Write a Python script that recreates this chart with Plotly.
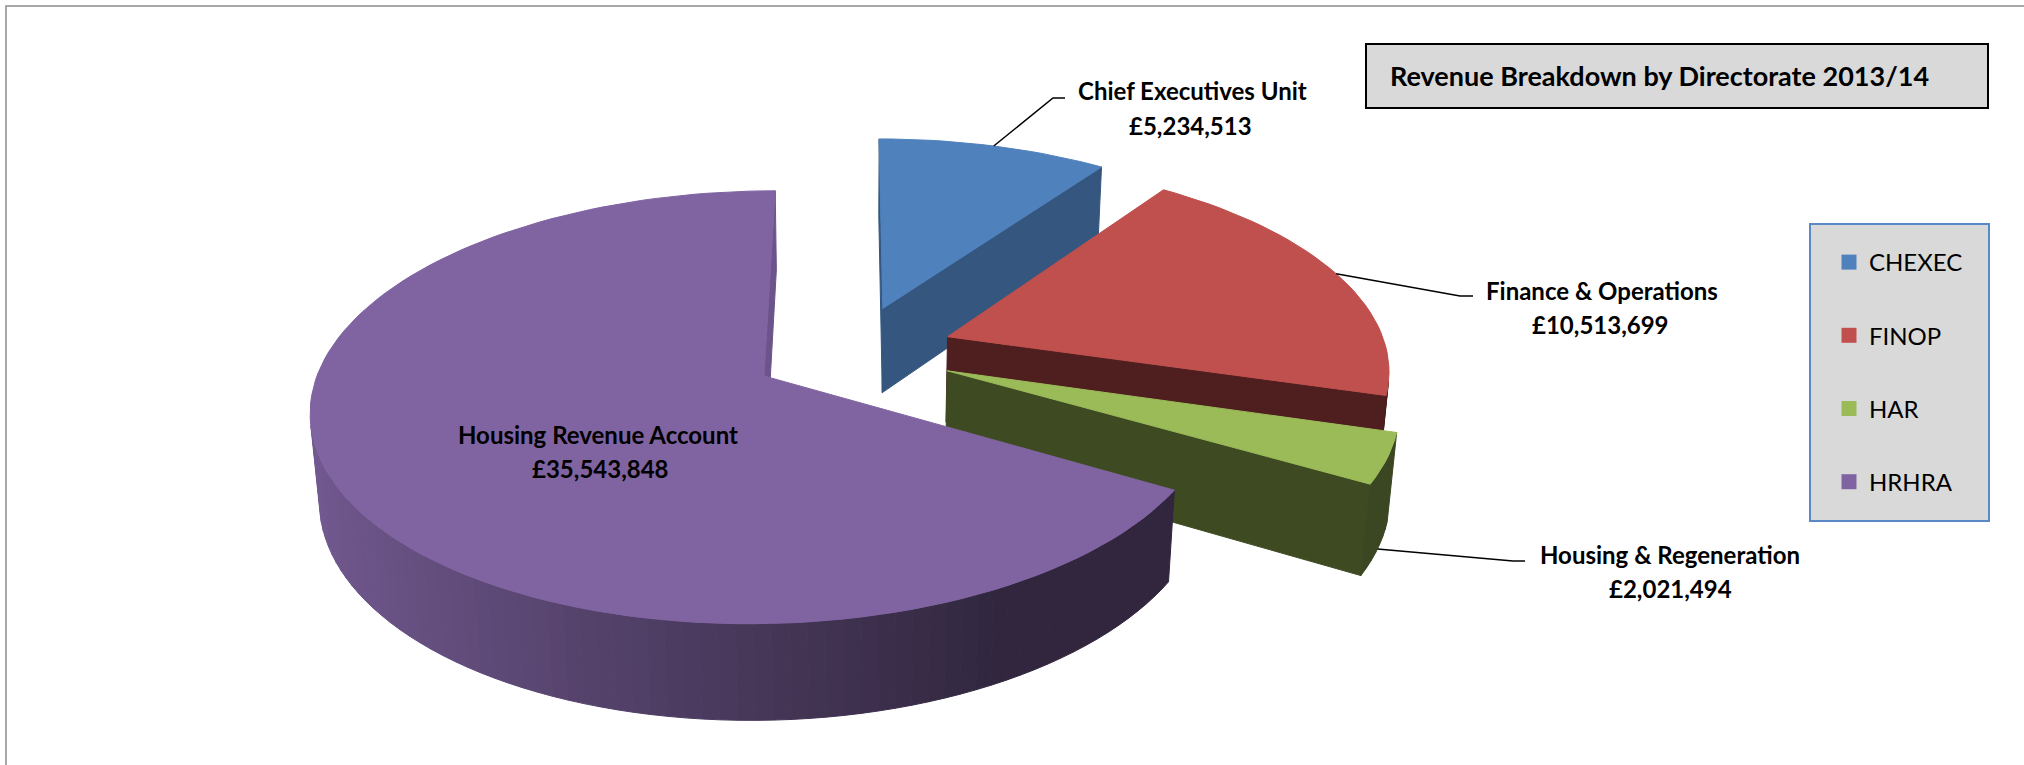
import numpy as np
import plotly.graph_objects as go

# ---- data: revenue by directorate, 2013/14 (GBP) ----
codes = ["CHEXEC", "FINOP", "HAR", "HRHRA"]
names = ["Chief Executives Unit", "Finance & Operations",
         "Housing & Regeneration", "Housing Revenue Account"]
revenue = [5234513, 10513699, 2021494, 35543848]
title_text = "Revenue Breakdown by Directorate 2013/14"

# ---- styles ----
top_colors = ["#4F81BD", "#C0504D", "#9BBB59", "#8064A2"]
cut_colors = ["#34567F", "#4F1E1F", "#3E4B22", "#6B548A"]   # radial cut faces
FONT = "Lato"

# ---- page / camera set-up for the 3-D pie ----
W, H = 2024, 765
CX, CY, FOCAL = 853.0, 352.0, 2735.0
ELEV = np.radians(27.8)
DIST = 6.22
THICK = 0.225
EXPLODE = 0.23
sE, cE = np.sin(ELEV), np.cos(ELEV)
CAM = np.array([0.0, -DIST * cE, DIST * sE])


def proj(X, Y, Z):
    """Perspective projection of pie-space points onto the image plane."""
    X = np.asarray(X, float)
    Y = np.asarray(Y, float)
    Z = np.asarray(Z, float)
    depth = DIST + Y * cE - Z * sE
    return X / depth, (Y * sE + Z * cE) / depth


def pix(xp, yp):
    """Page pixel -> axis units (used to place labels)."""
    return (xp - CX) / FOCAL, (CY - yp) / FOCAL


def scale_color(hex_color, k):
    h = hex_color.lstrip("#")
    r, g, b = (int(h[i:i + 2], 16) for i in (0, 2, 4))
    return "rgb({},{},{})".format(*(int(round(min(255, c * k))) for c in (r, g, b)))


def rim_factor(theta):
    t = np.clip((1 + np.sin(theta)) / 1.5, 0, 1)
    return 0.9 - 0.52 * t


fig = go.Figure()


def add_poly(xs, ys, color):
    xs = list(xs) + [xs[0]]
    ys = list(ys) + [ys[0]]
    fig.add_trace(go.Scatter(x=xs, y=ys, mode="lines", fill="toself",
                             fillcolor=color, line=dict(color=color, width=1),
                             hoverinfo="skip", showlegend=False))


def visible(normal, point):
    return float(np.dot(CAM - np.asarray(point), normal)) > 0


vals = np.array(revenue, float)
fracs = vals / vals.sum()
ends = np.cumsum(fracs) * 2 * np.pi
starts = ends - fracs * 2 * np.pi
mids = (starts + ends) / 2
offx = EXPLODE * np.sin(mids)
offy = EXPLODE * np.cos(mids)

# painter's order: farthest slice first
order = np.argsort(-offy)
for i in order:
    a0, a1 = starts[i], ends[i]
    ox, oy = offx[i], offy[i]
    nstep = max(2, int(np.ceil(np.degrees(a1 - a0) / 2.0)))
    th = np.linspace(a0, a1, nstep + 1)

    # radial cut faces
    for ang, nrm in ((a0, (-np.cos(a0), np.sin(a0), 0.0)),
                     (a1, (np.cos(a1), -np.sin(a1), 0.0))):
        if visible(np.array(nrm), (ox, oy, -THICK / 2)):
            X = [ox, ox + np.sin(ang), ox + np.sin(ang), ox]
            Y = [oy, oy + np.cos(ang), oy + np.cos(ang), oy]
            Z = [0, 0, -THICK, -THICK]
            u, v = proj(X, Y, Z)
            add_poly(u, v, cut_colors[i])

    # outer curved wall, strip by strip
    for k in range(nstep):
        tm = (th[k] + th[k + 1]) / 2
        nrm = np.array([np.sin(tm), np.cos(tm), 0.0])
        if not visible(nrm, (ox + np.sin(tm), oy + np.cos(tm), -THICK / 2)):
            continue
        t2 = [th[k], th[k + 1], th[k + 1], th[k]]
        X = [ox + np.sin(t) for t in t2]
        Y = [oy + np.cos(t) for t in t2]
        Z = [0, 0, -THICK, -THICK]
        u, v = proj(X, Y, Z)
        add_poly(u, v, scale_color(top_colors[i], rim_factor(tm)))

    # top face
    X = np.concatenate([[ox], ox + np.sin(th)])
    Y = np.concatenate([[oy], oy + np.cos(th)])
    u, v = proj(X, Y, np.zeros_like(X))
    add_poly(u, v, top_colors[i])

# ---- data labels with leader lines ----
# (name line centre, value line centre, elbow, end of leader, leader anchor height)
label_layout = {
    0: dict(name=(1192, 90), value=(1190, 125), elbow=(1053, 98), end=(1065, 98), z=0.0),
    1: dict(name=(1602, 290), value=(1600, 324), elbow=(1460, 296), end=(1473, 296), z=0.0),
    2: dict(name=(1670, 554), value=(1670, 588), elbow=(1513, 561), end=(1525, 561), z=-THICK),
    3: dict(name=(598, 434), value=(600, 468), elbow=None, end=None, z=0.0),
}
for i, lay in label_layout.items():
    if lay["elbow"] is not None:
        ax_, ay_ = proj(offx[i] + np.sin(mids[i]), offy[i] + np.cos(mids[i]), lay["z"])
        ex, ey = pix(*lay["elbow"])
        fx, fy = pix(*lay["end"])
        fig.add_trace(go.Scatter(x=[float(ax_), ex, fx], y=[float(ay_), ey, fy],
                                 mode="lines", line=dict(color="black", width=1.5),
                                 hoverinfo="skip", showlegend=False))
    for key, txt in (("name", names[i]), ("value", "£{:,}".format(revenue[i]))):
        xx, yy = pix(*lay[key])
        fig.add_annotation(x=xx, y=yy, xref="x", yref="y", text=txt, showarrow=False,
                           xanchor="center", yanchor="middle",
                           font=dict(family=FONT, size=24, color="black", weight="bold"))

# ---- legend entries ----
for i, c in enumerate(codes):
    fig.add_trace(go.Scatter(x=[None], y=[None], mode="markers", name=c,
                             legendgroup=c,
                             marker=dict(symbol="square", size=15, color=top_colors[i]),
                             showlegend=True))

# ---- boxes: outer frame, title box, legend box ----
fig.add_shape(type="rect", xref="paper", yref="paper",
              x0=6 / W, x1=1.02, y0=1 - 6 / H, y1=-0.02,
              line=dict(color="#8C8C8C", width=1.5), fillcolor="rgba(0,0,0,0)",
              layer="above")
fig.add_shape(type="rect", xref="paper", yref="paper",
              x0=1366 / W, x1=1988 / W, y0=1 - 44 / H, y1=1 - 108 / H,
              line=dict(color="black", width=2), fillcolor="#D9D9D9", layer="above")
fig.add_shape(type="rect", xref="paper", yref="paper",
              x0=1810 / W, x1=1989 / W, y0=1 - 224 / H, y1=1 - 521 / H,
              line=dict(color="#5A8AC6", width=2), fillcolor="#D9D9D9", layer="above")
fig.add_annotation(x=1388 / W, y=1 - 76 / H, xref="paper", yref="paper",
                   text=title_text, showarrow=False, xanchor="left", yanchor="middle",
                   font=dict(family=FONT, size=27, color="black", weight="bold"))

fig.update_layout(
    width=W, height=H,
    margin=dict(l=0, r=0, t=0, b=0),
    paper_bgcolor="white", plot_bgcolor="white",
    xaxis=dict(range=[(0 - CX) / FOCAL, (W - CX) / FOCAL], visible=False, fixedrange=True),
    yaxis=dict(range=[(CY - H) / FOCAL, CY / FOCAL], visible=False, fixedrange=True),
    showlegend=True,
    legend=dict(x=1829 / W, y=1 - 240 / H, xanchor="left", yanchor="top",
                bgcolor="rgba(0,0,0,0)", borderwidth=0,
                font=dict(family=FONT, size=24, color="black"),
                tracegroupgap=39, itemsizing="trace"),
)

fig.write_html("out.html")
